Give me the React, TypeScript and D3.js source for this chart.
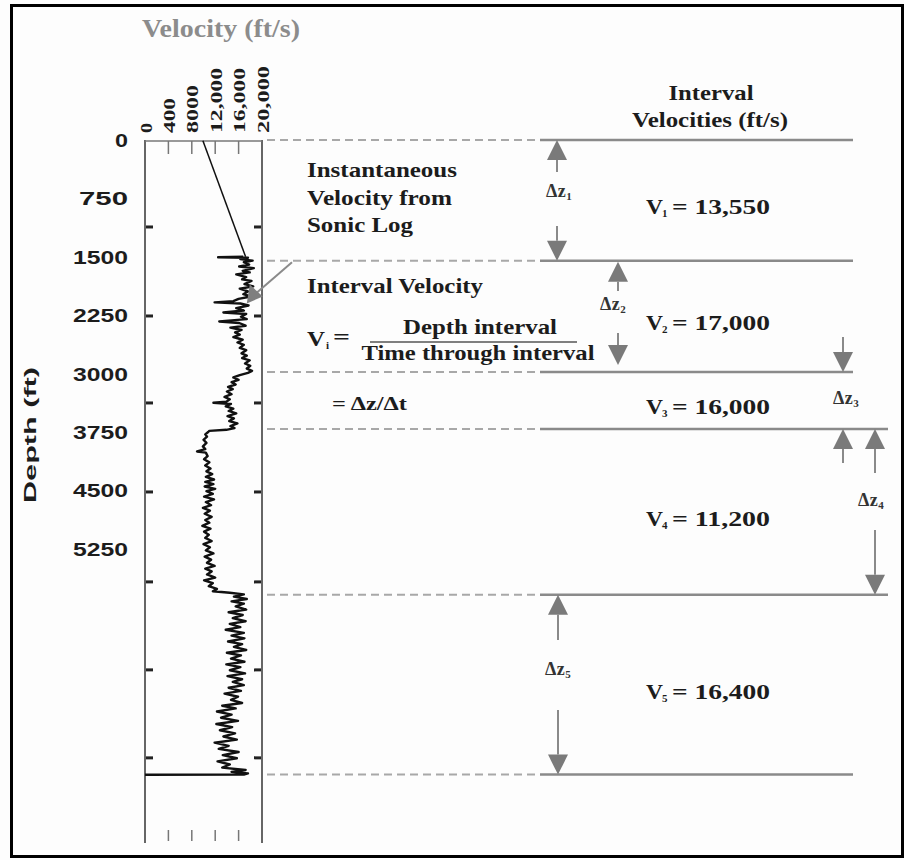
import React from "react";
import * as d3 from "d3";

// Depth axis labels (ft) and velocity axis ticks (ft/s)
const depthTicks = [0, 750, 1500, 2250, 3000, 3750, 4500, 5250];
const velocityTicks = [0, 4000, 8000, 12000, 16000, 20000];
const velocityTickLabels = ["0", "400", "8000", "12,000", "16,000", "20,000"];
// Short tick marks along the log track edges (depth, ft)
const trackTickDepths = [1117, 2260, 3377, 4520, 5675, 6805, 7935];

// Layer boundaries (ft) and interval velocities (ft/s)
const interfaceDepths = [0, 1550, 2980, 3710, 5840, 8150];
const intervalVelocities = [13550, 17000, 16000, 11200, 16400];
const intervalNames = ["1", "2", "3", "4", "5"];

// Sonic log samples: [depth ft, velocity ft/s]
const sonicLog: [number, number][] = [
  [1500, 16800], [1505, 12500], [1512, 17600], [1530, 16300], [1550, 18400], [1570, 16900],
  [1600, 17800], [1625, 16100], [1645, 18600], [1680, 16700], [1700, 17900], [1725, 15600],
  [1760, 17300], [1790, 16600], [1810, 18200], [1850, 17000], [1880, 18500], [1910, 16200],
  [1945, 17600], [1980, 16800], [2010, 18100], [2040, 16000], [2070, 15100], [2085, 11900],
  [2100, 16300], [2125, 17700], [2160, 15600], [2190, 16900], [2215, 13400], [2235, 17300],
  [2270, 16400], [2300, 17400], [2330, 12700], [2350, 16100], [2385, 17200], [2410, 14600],
  [2440, 16500], [2470, 15400], [2500, 16200], [2530, 15100], [2565, 16700], [2600, 15800],
  [2630, 16900], [2670, 16200], [2700, 17300], [2740, 16500], [2770, 17400], [2800, 16600],
  [2830, 17900], [2870, 17100], [2900, 18000], [2935, 17400], [2965, 18300], [2990, 17600],
  [3020, 16200], [3050, 15100], [3080, 16000], [3110, 14800], [3140, 15500], [3170, 14200],
  [3200, 15000], [3230, 14000], [3265, 14800], [3300, 13600], [3330, 14500], [3360, 13900],
  [3375, 11700], [3390, 14700], [3420, 13800], [3450, 15100], [3480, 14300], [3510, 15600],
  [3545, 14100], [3575, 15200], [3610, 14400], [3640, 15800], [3675, 14600], [3700, 15300],
  [3722, 13900], [3735, 11000],
  [3750, 10800], [3780, 10300], [3810, 10600], [3850, 10000], [3890, 10500], [3935, 9900],
  [3970, 10300], [4000, 8900], [4015, 10400], [4060, 10700], [4100, 10100], [4140, 11000],
  [4180, 10300], [4220, 11200], [4255, 10500], [4290, 11500], [4325, 10400], [4360, 11800],
  [4390, 10300], [4420, 11700], [4450, 10200], [4480, 12000], [4510, 10500], [4545, 11600],
  [4580, 10100], [4615, 11800], [4650, 10400], [4690, 11300], [4725, 9900], [4760, 11100],
  [4800, 10200], [4840, 11400], [4880, 10300], [4915, 11000], [4955, 9800], [4990, 11200],
  [5030, 10100], [5070, 10900], [5110, 10300], [5150, 11400], [5190, 10000], [5230, 11100],
  [5270, 10400], [5310, 11700], [5350, 10200], [5390, 11300], [5430, 10600], [5470, 11900],
  [5505, 10300], [5540, 11400], [5580, 10600], [5620, 12000], [5655, 10100], [5690, 11600],
  [5730, 10900], [5765, 12300], [5795, 11600],
  [5815, 14500], [5835, 16900], [5865, 15200], [5895, 17400], [5925, 14800], [5955, 16900],
  [5990, 15500], [6030, 17300], [6065, 14300], [6100, 16700], [6140, 15000], [6180, 17200],
  [6215, 14500], [6255, 16300], [6290, 13800], [6330, 16900], [6365, 14800], [6400, 17000],
  [6440, 14200], [6475, 16600], [6510, 15200], [6550, 17300], [6585, 14000], [6620, 16400],
  [6660, 14700], [6700, 17000], [6735, 13900], [6770, 16300], [6810, 14500], [6850, 17100],
  [6885, 14100], [6925, 16600], [6960, 15000], [7000, 16900], [7035, 14300], [7075, 16400],
  [7110, 13600], [7150, 15900], [7190, 14700], [7230, 16600], [7265, 13200], [7300, 15500],
  [7340, 12300], [7380, 14800], [7420, 13000], [7460, 15900], [7500, 12200], [7540, 14900],
  [7580, 12800], [7620, 15400], [7660, 13400], [7700, 15700], [7740, 11900], [7780, 14300],
  [7820, 12600], [7860, 16000], [7900, 13300], [7940, 15700], [7980, 12400], [8020, 14500],
  [8060, 13200], [8090, 17200], [8115, 14800], [8135, 17600], [8150, 16900], [8152, 0],
];

const SERIF = "'Liberation Serif', 'Times New Roman', serif";
const SANS = "'Liberation Sans', Arial, sans-serif";
const INK = "#1c1c1c";
const GREY = "#8a8a8a";

const y = d3.scaleLinear().domain([0, 9000]).range([140, 140 + (9000 * 58.4) / 750]);
const x = d3.scaleLinear().domain([0, 20000]).range([145, 262]);

const fmt = d3.format(",");

type TProps = {
  x: number;
  y: number;
  w: number;
  size: number;
  anchor?: "start" | "middle" | "end";
  family?: string;
  fill?: string;
  children: React.ReactNode;
};

// Bold text fitted to a given run length
function T({ x: tx, y: ty, w, size, anchor = "start", family = SERIF, fill = INK, children }: TProps) {
  return (
    <text
      x={tx}
      y={ty}
      fontSize={size}
      fontFamily={family}
      fontWeight="bold"
      fill={fill}
      textAnchor={anchor}
      textLength={w}
      lengthAdjust="spacingAndGlyphs"
    >
      {children}
    </text>
  );
}

function Arrow({ ax, from, to }: { ax: number; from: number; to: number }) {
  const dir = to > from ? 1 : -1;
  const head = 20;
  const half = 10;
  const base = to - dir * head;
  return (
    <g>
      <line x1={ax} y1={from} x2={ax} y2={base} stroke={GREY} strokeWidth={2} />
      <path d={`M${ax},${to} L${ax - half},${base} L${ax + half},${base} Z`} fill="#7a7a7a" />
    </g>
  );
}

function Dz({ lx, ly, sub }: { lx: number; ly: number; sub: string }) {
  return (
    <text x={lx} y={ly} fontFamily={SERIF} fontWeight="bold" fontSize={18} fill="#333" letterSpacing={0.5}>
      Δz<tspan fontSize={11} dy={3}>{sub}</tspan>
    </text>
  );
}

export default function App() {
  const line = d3
    .line<[number, number]>()
    .x((d) => x(d[1]))
    .y((d) => y(d[0]));

  const iy = interfaceDepths.map((d) => y(d));
  const solidEnd = [853, 853, 853, 888, 888, 853];
  const trackBottom = 843;
  const velLabelLen = [10, 35, 48, 65, 65, 67];

  return (
    <svg width={904} height={860} style={{ position: "absolute", left: 0, top: 0, background: "#fdfdfd" }}>
      <rect x={11.5} y={5.5} width={891} height={851} fill="#fdfdfd" stroke="#000" strokeWidth={3} />

      {/* Velocity axis title and tick labels */}
      <T x={142} y={37} w={158} size={25} fill="#8c8c8c">
        Velocity (ft/s)
      </T>
      {velocityTicks.map((v, i) => (
        <g key={v} transform={`translate(${x(v) + 1},133) rotate(-90)`}>
          <text
            x={0}
            y={0}
            dominantBaseline="central"
            fontFamily={SERIF}
            fontWeight="bold"
            fontSize={17}
            fill={INK}
            textLength={velLabelLen[i]}
            lengthAdjust="spacingAndGlyphs"
          >
            {velocityTickLabels[i]}
          </text>
        </g>
      ))}

      {/* Depth axis */}
      {depthTicks.map((d) => {
        const s = String(d);
        return (
          <T key={d} x={128} y={y(d) + 7} w={s.length === 1 ? 13 : s.length === 3 ? 49 : 55} size={18} anchor="end" family={SANS}>
            {s}
          </T>
        );
      })}
      <g transform="translate(30,435) rotate(-90)">
        <text
          dominantBaseline="central"
          textAnchor="middle"
          fontFamily={SANS}
          fontWeight="bold"
          fontSize={17}
          fill={INK}
          textLength={136}
          lengthAdjust="spacingAndGlyphs"
        >
          Depth (ft)
        </text>
      </g>

      {/* Log track frame */}
      <line x1={145} y1={140} x2={145} y2={trackBottom} stroke="#666" strokeWidth={2} />
      <line x1={262} y1={140} x2={262} y2={trackBottom} stroke="#666" strokeWidth={2} />
      <line x1={145} y1={141} x2={262} y2={141} stroke="#777" strokeWidth={1.5} />
      {velocityTicks.slice(1, -1).map((v) => (
        <g key={v}>
          <line x1={x(v)} y1={141} x2={x(v)} y2={154} stroke="#777" strokeWidth={1.5} />
          <line x1={x(v)} y1={830} x2={x(v)} y2={841} stroke="#777" strokeWidth={1.5} />
        </g>
      ))}
      {trackTickDepths.map((d) => (
        <g key={d}>
          <line x1={146} y1={y(d)} x2={153} y2={y(d)} stroke="#222" strokeWidth={3} />
          <line x1={254} y1={y(d)} x2={261} y2={y(d)} stroke="#222" strokeWidth={3} />
        </g>
      ))}

      {/* Layer boundaries: dashed across the annotation zone, solid on the right */}
      {iy.map((yy, i) => (
        <g key={i}>
          <line x1={267} y1={yy} x2={540} y2={yy} stroke="#a8a8a8" strokeWidth={2} strokeDasharray="8 5" />
          <line x1={540} y1={yy} x2={solidEnd[i]} y2={yy} stroke={GREY} strokeWidth={2.5} />
        </g>
      ))}

      {/* Sonic log */}
      <path d={line(sonicLog) || ""} fill="none" stroke="#111" strokeWidth={2.4} strokeLinejoin="round" />

      {/* Pointers */}
      <line x1={x(9900)} y1={y(10)} x2={x(17200)} y2={y(1500)} stroke="#111" strokeWidth={1.5} />
      <line x1={292} y1={y(1570)} x2={x(18800)} y2={y(1980)} stroke={GREY} strokeWidth={2} />
      <path
        d={`M${x(17400)},${y(2100)} L${x(17400) + 3},${y(2100) - 19} L${x(17400) + 16},${y(2100) - 7} Z`}
        fill="#7f7f7f"
      />

      {/* Annotation text */}
      <T x={307} y={177} w={150} size={21}>Instantaneous</T>
      <T x={307} y={205} w={145} size={21}>Velocity from</T>
      <T x={307} y={232} w={106} size={21}>Sonic Log</T>
      <T x={307} y={293} w={176} size={21}>Interval Velocity</T>
      <T x={307} y={346} w={18} size={21}>V</T>
      <text x={326} y={349} fontFamily={SERIF} fontWeight="bold" fontSize={11} fill={INK}>i</text>
      <T x={333} y={344} w={17} size={21}>=</T>
      <T x={480} y={334} w={154} size={21} anchor="middle">Depth interval</T>
      <T x={478} y={360} w={233} size={21} anchor="middle">Time through interval</T>
      <line x1={370} y1={342} x2={577} y2={342} stroke="#555" strokeWidth={1.5} />
      <T x={332} y={410} w={75} size={19}>= Δz/Δt</T>

      {/* Interval velocity labels */}
      <T x={711} y={100} w={85} size={21} anchor="middle">Interval</T>
      <T x={710} y={127} w={156} size={21} anchor="middle">Velocities (ft/s)</T>
      {intervalVelocities.map((v, i) => {
        const by = (iy[i] + iy[i + 1]) / 2 + 14;
        return (
          <g key={i}>
            <T x={646} y={by} w={17} size={21}>V</T>
            <text x={662} y={by + 3} fontFamily={SERIF} fontWeight="bold" fontSize={11} fill={INK}>
              {intervalNames[i]}
            </text>
            <T x={672} y={by} w={98} size={21}>{`= ${fmt(v)}`}</T>
          </g>
        );
      })}

      {/* Thickness arrows */}
      <Arrow ax={557} from={172} to={iy[0]} />
      <Arrow ax={557} from={226} to={iy[1]} />
      <Dz lx={546} ly={197} sub="1" />

      <Arrow ax={618} from={291} to={iy[1] + 1} />
      <Arrow ax={618} from={333} to={iy[2] - 7} />
      <Dz lx={600} ly={310} sub="2" />

      <Arrow ax={843} from={337} to={iy[2]} />
      <Dz lx={833} ly={404} sub="3" />
      <Arrow ax={843} from={463} to={iy[3]} />

      <Arrow ax={875} from={473} to={iy[3]} />
      <Arrow ax={875} from={530} to={iy[4]} />
      <Dz lx={858} ly={506} sub="4" />

      <Arrow ax={558} from={640} to={iy[4]} />
      <Arrow ax={558} from={710} to={iy[5]} />
      <Dz lx={545} ly={675} sub="5" />
    </svg>
  );
}
